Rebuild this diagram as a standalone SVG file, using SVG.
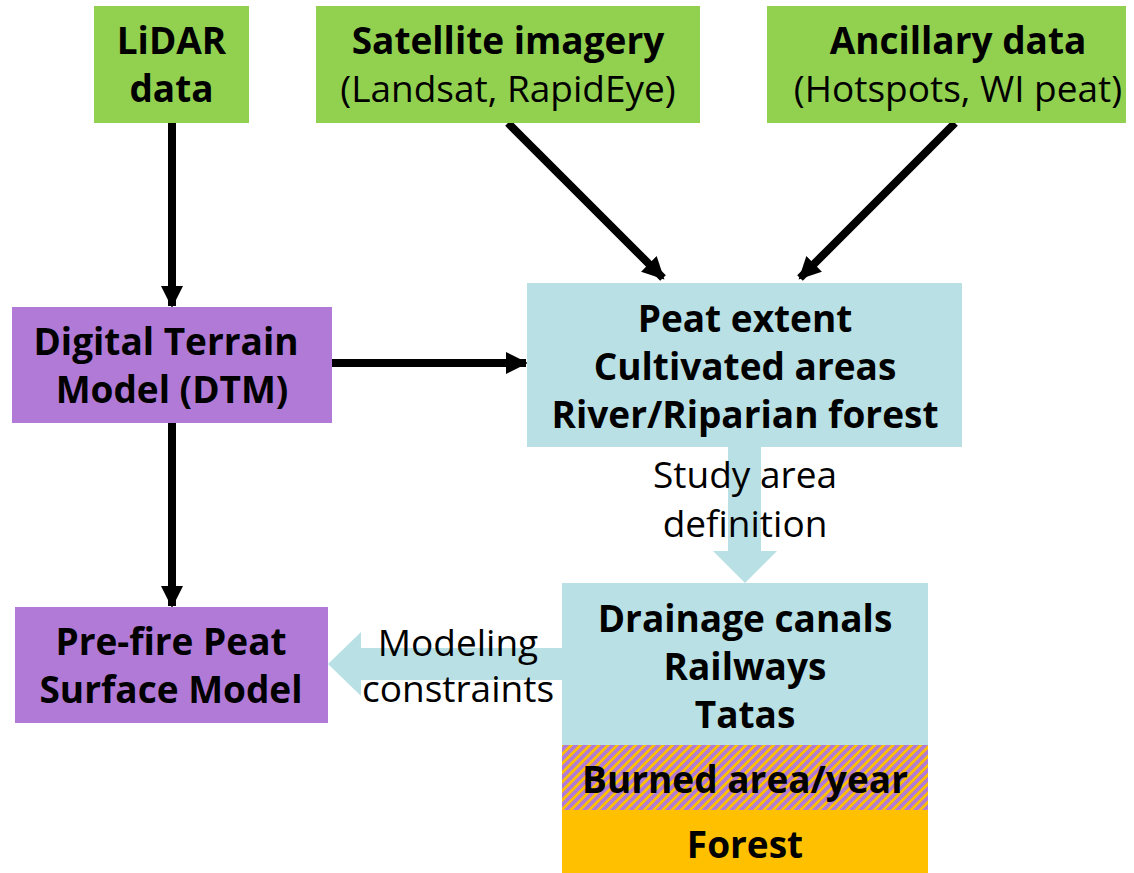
<svg xmlns="http://www.w3.org/2000/svg" width="1134" height="873" viewBox="0 0 1134 873">
<style>
.t{font-family:"Open Sans","Noto Sans","Liberation Sans",sans-serif;font-size:37px;fill:#000;text-anchor:middle}
.b{font-weight:bold}
.green{fill:#92d050}
.purple{fill:#b07ad6}
.blue{fill:#b9e0e4}
.orange{fill:#ffc000}
.conn{stroke:#000;stroke-width:8;fill:none;marker-end:url(#ah)}
</style>
<defs>
<marker id="ah" markerUnits="userSpaceOnUse" markerWidth="24" markerHeight="22" refX="20" refY="11" orient="auto">
<path d="M0,0 L22,11 L0,22 Z" fill="#000"/>
</marker>
<pattern id="hatch" width="6.5" height="6.5" patternUnits="userSpaceOnUse" patternTransform="rotate(45)">
<rect width="6.5" height="6.5" fill="#b07ad6"/>
<rect width="2.8" height="6.5" fill="#ffc000"/>
</pattern>
</defs>
<rect width="1134" height="873" fill="#fff"/>
<g id="connectors">
<line class="conn" x1="172" y1="123" x2="172" y2="306"/>
<line class="conn" x1="172" y1="423" x2="172" y2="606"/>
<line class="conn" x1="332" y1="363" x2="526" y2="363"/>
<line class="conn" x1="508" y1="123" x2="663" y2="278"/>
<line class="conn" x1="955" y1="123" x2="800" y2="278"/>
<polygon class="blue" points="728,447 761,447 761,551 777,551 745,583 713,551 728,551"/>
<polygon class="blue" points="562,648 562,680 361,680 361,696 328,664 361,632 361,648"/>
</g>
<g id="lidar">
<rect class="green" x="94" y="6" width="155" height="117"/>
<text class="t b" x="171.5" y="54">LiDAR</text>
<text class="t b" x="171.5" y="102">data</text>
</g>
<g id="satellite">
<rect class="green" x="316" y="6" width="384" height="117"/>
<text class="t b" x="508" y="54">Satellite imagery</text>
<text class="t" x="508" y="102">(Landsat, RapidEye)</text>
</g>
<g id="ancillary">
<rect class="green" x="767" y="6" width="359" height="117"/>
<text class="t b" x="958" y="54">Ancillary data</text>
<text class="t" x="958" y="102">(Hotspots, WI peat)</text>
</g>
<g id="dtm">
<rect class="purple" x="12" y="307" width="320" height="116"/>
<text class="t b" x="166" y="355">Digital Terrain</text>
<text class="t b" x="172" y="403">Model (DTM)</text>
</g>
<g id="peat">
<rect class="blue" x="527" y="283" width="435" height="164"/>
<text class="t b" x="745" y="332">Peat extent</text>
<text class="t b" x="745" y="380">Cultivated areas</text>
<text class="t b" x="745" y="428">River/Riparian forest</text>
</g>
<g id="study-label">
<text class="t" x="745" y="488">Study area</text>
<text class="t" x="745" y="537">definition</text>
</g>
<g id="drainage">
<rect class="blue" x="562" y="583" width="366" height="162"/>
<text class="t b" x="745" y="632">Drainage canals</text>
<text class="t b" x="745" y="680">Railways</text>
<text class="t b" x="745" y="728">Tatas</text>
</g>
<g id="burned">
<rect fill="url(#hatch)" x="562" y="745" width="366" height="65"/>
<text class="t b" x="745" y="793">Burned area/year</text>
</g>
<g id="forest">
<rect class="orange" x="562" y="810" width="366" height="63"/>
<text class="t b" x="745" y="858">Forest</text>
</g>
<g id="modeling-label">
<text class="t" x="458" y="656">Modeling</text>
<text class="t" x="458" y="702">constraints</text>
</g>
<g id="prefire">
<rect class="purple" x="15" y="607" width="313" height="116"/>
<text class="t b" x="171" y="655">Pre-fire Peat</text>
<text class="t b" x="171" y="703">Surface Model</text>
</g>
</svg>
